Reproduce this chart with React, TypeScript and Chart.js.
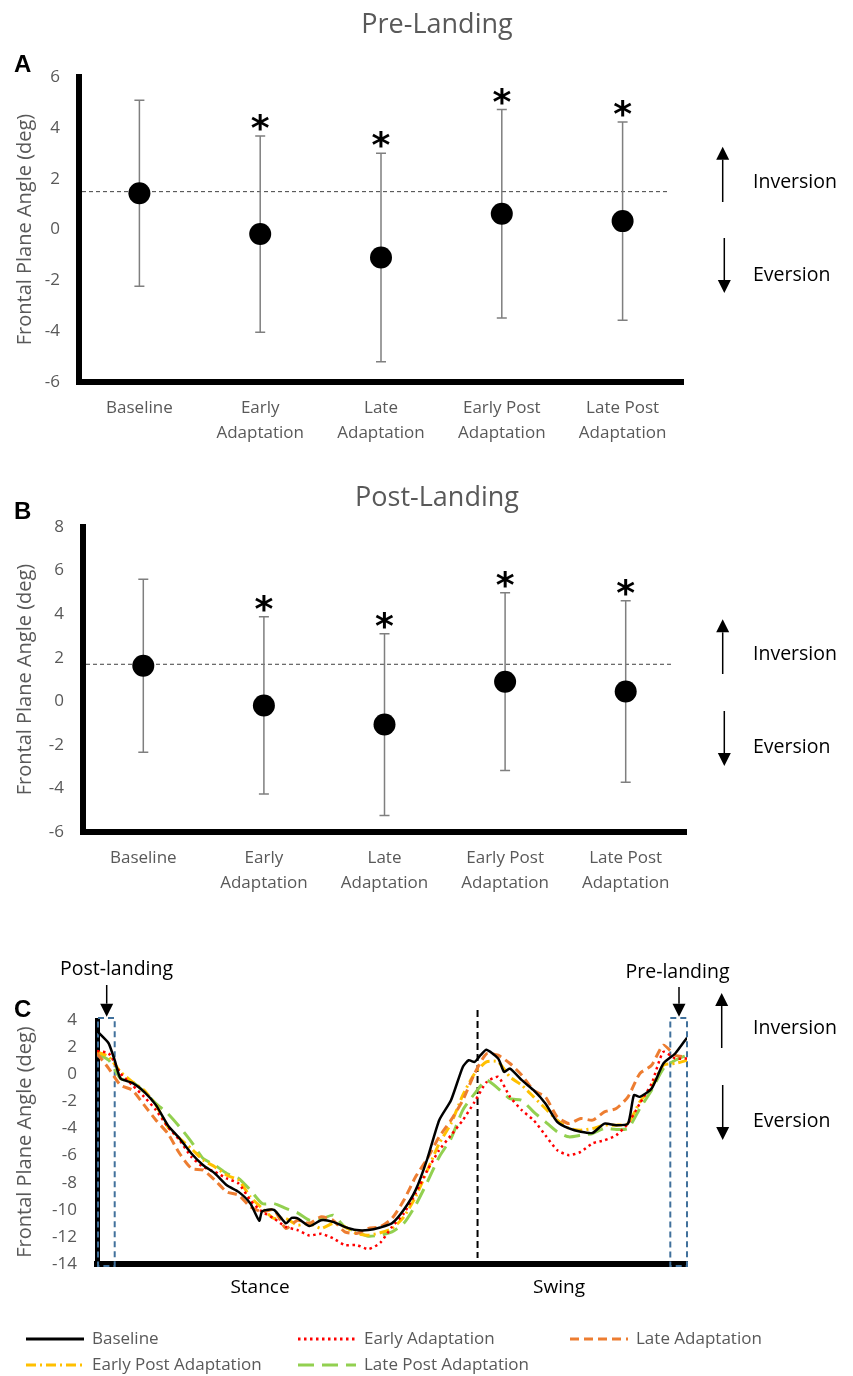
import { useEffect, useRef } from "react";
import { Chart, registerables } from "chart.js";

Chart.register(...registerables);

const FONT = "'Open Sans', 'DejaVu Sans', sans-serif";
const GRAY = "#595959";

// ---------- Panels A & B ----------
const conditions = [
  ["Baseline"],
  ["Early", "Adaptation"],
  ["Late", "Adaptation"],
  ["Early Post", "Adaptation"],
  ["Late Post", "Adaptation"],
];
const preLandingMean = [1.43, -0.18, -1.1, 0.62, 0.33];
const preLandingSD = [3.66, 3.86, 4.1, 4.1, 3.9];
const postLandingMean = [1.63, -0.19, -1.07, 0.9, 0.45];
const postLandingSD = [3.97, 4.07, 4.17, 4.08, 4.17];
const significantVsBaseline = [false, true, true, true, true];

// ---------- Panel C ----------
const gaitPct = [
  0, 2, 4, 6, 8, 10, 12, 14, 16, 18, 20, 22, 24, 26, 28, 30, 32, 34, 36, 38, 40, 42, 44, 46, 48, 50,
  52, 54, 56, 58, 60, 62, 64, 66, 68, 70, 72, 74, 76, 78, 80, 82, 84, 86, 88, 90, 92, 94, 96, 98, 100,
];
const baselinePct = [
  0, 1, 2, 3, 4, 6, 8, 10, 12, 14, 16, 18, 20, 22, 24, 26, 27.5, 28, 30, 32, 33, 34, 36, 38, 40, 42,
  44, 46, 48, 50, 52, 54, 56, 58, 60, 62, 63, 64, 65, 66, 68, 69, 70, 72, 74, 76, 78, 80, 82, 84, 86,
  88, 90, 91, 92, 94, 96, 98, 100,
];
const baselineAngle = [
  3.2, 2.75, 2.26, 1.03, -0.32, -0.64, -1.3, -2.28, -3.76, -4.74, -5.85, -6.71, -7.32, -8.19, -8.68,
  -9.54, -10.8, -10.1, -10.0, -11.0, -10.6, -10.64, -11.2, -10.77, -10.89, -11.26, -11.5, -11.5,
  -11.31, -11.0, -10.0, -8.55, -6.22, -3.39, -1.92, 0.54, 1.03, 0.91, 1.4, 1.8, 1.16, 0.17, 0.42,
  -0.44, -1.18, -2.16, -3.51, -4.0, -4.25, -4.33, -3.64, -3.76, -3.64, -1.55, -1.67, -1.06, 0.79,
  1.53, 2.7,
];
const earlyAdaptationAngle = [
  1.72, 1.53, 0.05, -0.81, -1.67, -2.65, -3.88, -4.87, -6.1, -6.84, -7.2, -7.69, -8.06, -9.3,
  -10.15, -10.64, -11.26, -11.5, -11.9, -11.77, -12.1, -12.6, -12.6, -12.9, -12.44, -11.26, -10.27,
  -8.8, -7.08, -5.6, -4.5, -3.39, -2.04, -0.6, -0.2, -1.67, -2.65, -3.39, -4.5, -5.6, -5.97, -5.73,
  -5.1, -4.87, -4.5, -3.64, -2.16, -0.69, 1.65, 1.16, 1.16,
];
const lateAdaptationAngle = [
  1.53, 0.42, -0.81, -1.18, -2.28, -3.39, -4.37, -5.85, -6.95, -7.08, -7.82, -8.68, -8.92, -9.78,
  -10.15, -10.0, -11.38, -10.77, -11.0, -10.52, -10.77, -11.63, -11.75, -11.38, -11.26, -10.64,
  -9.3, -7.57, -6.22, -4.62, -3.39, -1.92, 0.05, 1.5, 1.4, 0.79, -0.07, -1.18, -1.67, -3.15, -3.64,
  -3.27, -3.39, -2.78, -2.53, -1.67, 0.05, 0.66, 2.14, 1.4, 1.28,
];
const earlyPostAngle = [
  1.65, 1.28, 0.17, -0.57, -1.18, -2.28, -3.88, -4.74, -5.48, -6.34, -6.84, -7.45, -7.82, -9.05,
  -9.9, -10.64, -10.64, -11.13, -11.0, -11.38, -11.0, -11.26, -11.75, -11.87, -11.7, -11.38,
  -10.52, -9.05, -7.08, -5.11, -3.64, -1.55, 0.05, 0.91, 0.91, -0.2, -0.81, -1.67, -2.53, -3.39,
  -4.0, -4.13, -4.0, -3.76, -3.76, -3.64, -2.04, -0.94, 0.66, 0.79, 1.03,
];
const latePostAngle = [
  1.53, 1.03, -0.32, -0.57, -1.3, -2.16, -2.9, -3.88, -4.99, -6.22, -6.71, -7.32, -7.69, -8.55,
  -9.54, -9.54, -9.9, -10.23, -10.77, -10.7, -10.4, -11.26, -11.63, -11.95, -11.87, -11.63, -11.0,
  -9.66, -7.94, -6.1, -4.74, -2.65, -1.43, -0.44, -1.06, -1.8, -1.92, -2.78, -3.51, -4.25, -4.62,
  -4.5, -4.37, -4.0, -4.07, -4.0, -2.53, -1.18, 0.42, 1.03, 1.4,
];
const toeOffPct = 64.5;
const postLandingWindow = [0, 3];
const preLandingWindow = [97, 100];

const seriesNames = [
  "Baseline",
  "Early Adaptation",
  "Late Adaptation",
  "Early Post Adaptation",
  "Late Post Adaptation",
];
const seriesColors = ["#000000", "#FF0000", "#ED7D31", "#FFC000", "#92D050"];
const seriesDash = [[], [2.5, 3.5], [9, 5], [10, 4, 2, 4], [16, 8]];
const seriesWidth = [2.5, 2.5, 3, 3, 3];

const LETTER_FONT = "bold 24px 'Liberation Sans', Arial, sans-serif";
const ASTERISK_FONT = "bold 36px 'DejaVu Sans', sans-serif";

function drawArrow(ctx: CanvasRenderingContext2D, x: number, tailY: number, tipY: number) {
  const dir = Math.sign(tipY - tailY);
  const headLen = 13;
  const half = 6.5;
  ctx.save();
  ctx.strokeStyle = "#000";
  ctx.fillStyle = "#000";
  ctx.lineWidth = 1.5;
  ctx.setLineDash([]);
  ctx.beginPath();
  ctx.moveTo(x, tailY);
  ctx.lineTo(x, tipY - dir * headLen);
  ctx.stroke();
  ctx.beginPath();
  ctx.moveTo(x, tipY);
  ctx.lineTo(x - half, tipY - dir * headLen);
  ctx.lineTo(x + half, tipY - dir * headLen);
  ctx.closePath();
  ctx.fill();
  ctx.restore();
}

function text(
  ctx: CanvasRenderingContext2D,
  s: string,
  x: number,
  y: number,
  font: string,
  color: string,
  align: CanvasTextAlign = "left",
  baseline: CanvasTextBaseline = "alphabetic"
) {
  ctx.save();
  ctx.font = font;
  ctx.fillStyle = color;
  ctx.textAlign = align;
  ctx.textBaseline = baseline;
  ctx.fillText(s, x, y);
  ctx.restore();
}

type PanelCfg = {
  title: string;
  titleY: number;
  letter: string;
  letterY: number;
  means: number[];
  sds: number[];
  yMin: number;
  yMax: number;
  padTop: number;
  padRight: number;
  yWidth: number;
  xHeight: number;
  upArrow: [number, number, number];
  downArrow: [number, number, number];
  invY: number;
  evY: number;
};

function makePanel(canvas: HTMLCanvasElement, cfg: PanelCfg) {
  const plugin = {
    id: "panelExtras",
    beforeDatasetsDraw(chart: any) {
      const { ctx, chartArea, scales } = chart;
      const y = scales.y;
      const meta = chart.getDatasetMeta(0);
      ctx.save();
      const ry = y.getPixelForValue(cfg.means[0]) - 1.5;
      ctx.strokeStyle = "#404040";
      ctx.lineWidth = 1;
      ctx.setLineDash([4, 3]);
      ctx.beginPath();
      ctx.moveTo(chartArea.left + 3, ry);
      ctx.lineTo(chartArea.right - 13, ry);
      ctx.stroke();
      ctx.setLineDash([]);
      ctx.strokeStyle = "#7f7f7f";
      ctx.lineWidth = 1.5;
      cfg.means.forEach((m, i) => {
        const x = meta.data[i].x;
        const top = y.getPixelForValue(m + cfg.sds[i]);
        const bot = y.getPixelForValue(m - cfg.sds[i]);
        ctx.beginPath();
        ctx.moveTo(x, top);
        ctx.lineTo(x, bot);
        ctx.moveTo(x - 5, top);
        ctx.lineTo(x + 5, top);
        ctx.moveTo(x - 5, bot);
        ctx.lineTo(x + 5, bot);
        ctx.stroke();
      });
      ctx.restore();
    },
    afterDatasetsDraw(chart: any) {
      const { ctx, scales } = chart;
      const y = scales.y;
      const meta = chart.getDatasetMeta(0);
      cfg.means.forEach((m, i) => {
        if (!significantVsBaseline[i]) return;
        const x = meta.data[i].x;
        const top = y.getPixelForValue(m + cfg.sds[i]);
        const cy = top - 15;
        text(ctx, "*", x, cy + 19, ASTERISK_FONT, "#000", "center");
      });
    },
    afterDraw(chart: any) {
      const { ctx } = chart;
      text(ctx, cfg.title, 437, cfg.titleY, `27px ${FONT}`, GRAY, "center");
      text(ctx, cfg.letter, 14, cfg.letterY, LETTER_FONT, "#000");
      drawArrow(ctx, cfg.upArrow[0], cfg.upArrow[1], cfg.upArrow[2]);
      drawArrow(ctx, cfg.downArrow[0], cfg.downArrow[1], cfg.downArrow[2]);
      text(ctx, "Inversion", 753, cfg.invY, `19.5px ${FONT}`, "#000");
      text(ctx, "Eversion", 753, cfg.evY, `19.5px ${FONT}`, "#000");
    },
  };

  return new Chart(canvas, {
    type: "line",
    data: {
      labels: conditions as any,
      datasets: [
        {
          data: cfg.means,
          showLine: false,
          pointRadius: 11,
          pointHoverRadius: 11,
          pointBackgroundColor: "#000",
          pointBorderWidth: 0,
          borderColor: "#000",
        },
      ],
    },
    options: {
      responsive: false,
      animation: false,
      events: [],
      layout: { padding: { top: cfg.padTop, right: cfg.padRight, left: 0, bottom: 0 } },
      plugins: { legend: { display: false }, title: { display: false }, tooltip: { enabled: false } },
      scales: {
        x: {
          type: "category",
          offset: true,
          grid: { display: false, drawTicks: false },
          border: { display: true, color: "#000", width: 6 },
          ticks: { color: GRAY, font: { family: FONT, size: 17, lineHeight: 1.47 }, padding: 13.5, maxRotation: 0, autoSkip: false },
          afterFit: (s: any) => {
            s.height = cfg.xHeight;
          },
        },
        y: {
          min: cfg.yMin,
          max: cfg.yMax,
          grid: { display: false, drawTicks: false },
          border: { display: true, color: "#000", width: 6 },
          ticks: { stepSize: 2, color: GRAY, font: { family: FONT, size: 17 }, padding: 19 },
          title: {
            display: true,
            text: "Frontal Plane Angle (deg)",
            color: GRAY,
            font: { family: FONT, size: 20 },
            padding: { top: 13, bottom: 0 },
          },
          afterFit: (s: any) => {
            s.width = cfg.yWidth;
          },
        },
      },
    } as any,
    plugins: [plugin],
  });
}

function makeGaitChart(canvas: HTMLCanvasElement) {
  const series = [baselineAngle, earlyAdaptationAngle, lateAdaptationAngle, earlyPostAngle, latePostAngle];
  const datasets = series.map((vals, i) => {
    const xs = i === 0 ? baselinePct : gaitPct;
    return {
      label: seriesNames[i],
      data: vals.map((v, j) => ({ x: xs[j], y: v })),
      borderColor: seriesColors[i],
      borderWidth: seriesWidth[i],
      borderDash: seriesDash[i],
      pointRadius: 0,
      tension: 0.2,
      fill: false,
    };
  });

  const plugin = {
    id: "gaitExtras",
    beforeDatasetsDraw(chart: any) {
      const { ctx, chartArea, scales } = chart;
      const x = scales.x;
      ctx.save();
      // toe-off line
      const tx = x.getPixelForValue(toeOffPct);
      ctx.strokeStyle = "#000";
      ctx.lineWidth = 2;
      ctx.setLineDash([7, 4]);
      ctx.beginPath();
      ctx.moveTo(tx, chartArea.top - 10);
      ctx.lineTo(tx, chartArea.bottom - 6);
      ctx.stroke();
      // landing windows
      ctx.strokeStyle = "#41719C";
      ctx.lineWidth = 2;
      ctx.setLineDash([6, 4]);
      [postLandingWindow, preLandingWindow].forEach((w) => {
        const x0 = x.getPixelForValue(w[0]) + 1;
        const x1 = x.getPixelForValue(w[1]);
        ctx.strokeRect(x0, chartArea.top - 2, x1 - x0, chartArea.bottom + 2 - (chartArea.top - 2));
      });
      ctx.restore();
    },
    afterDraw(chart: any) {
      const { ctx } = chart;
      text(ctx, "C", 14, 97, LETTER_FONT, "#000");
      text(ctx, "Post-landing", 116.5, 55, `19.5px ${FONT}`, "#000", "center");
      drawArrow(ctx, 106.7, 65, 96.7);
      text(ctx, "Pre-landing", 677.5, 58, `19.5px ${FONT}`, "#000", "center");
      drawArrow(ctx, 679, 67, 96.7);
      drawArrow(ctx, 721.7, 128, 73);
      drawArrow(ctx, 722.7, 165, 220);
      text(ctx, "Inversion", 753, 114, `19.5px ${FONT}`, "#000");
      text(ctx, "Eversion", 753, 207, `19.5px ${FONT}`, "#000");
      text(ctx, "Stance", 260, 373, `19px ${FONT}`, "#000", "center");
      text(ctx, "Swing", 559, 373, `19px ${FONT}`, "#000", "center");
      // legend
      const cols = [26, 298, 570];
      const rows = [419, 445];
      seriesNames.forEach((name, i) => {
        const col = cols[i % 3];
        const row = rows[Math.floor(i / 3)];
        ctx.save();
        ctx.strokeStyle = seriesColors[i];
        ctx.lineWidth = 3;
        ctx.setLineDash(seriesDash[i]);
        ctx.beginPath();
        ctx.moveTo(col, row);
        ctx.lineTo(col + 58, row);
        ctx.stroke();
        ctx.restore();
        text(ctx, name, col + 66, row, `17px ${FONT}`, GRAY, "left", "middle");
      });
    },
  };

  return new Chart(canvas, {
    type: "line",
    data: { datasets },
    options: {
      responsive: false,
      animation: false,
      events: [],
      layout: { padding: { top: 100, right: 166, left: 0, bottom: 0 } },
      plugins: { legend: { display: false }, title: { display: false }, tooltip: { enabled: false } },
      scales: {
        x: {
          type: "linear",
          min: 0,
          max: 100,
          grid: { display: false, drawTicks: false },
          border: { display: true, color: "#000", width: 6 },
          ticks: { display: false },
          afterFit: (s: any) => {
            s.height = 112;
          },
        },
        y: {
          min: -14,
          max: 4,
          grid: { display: false, drawTicks: false },
          border: { display: true, color: "#000", width: 5 },
          ticks: { stepSize: 2, color: GRAY, font: { family: FONT, size: 17 }, padding: 20 },
          title: {
            display: true,
            text: "Frontal Plane Angle (deg)",
            color: GRAY,
            font: { family: FONT, size: 20 },
            padding: { top: 13, bottom: 0 },
          },
          afterFit: (s: any) => {
            s.width = 97;
          },
        },
      },
    } as any,
    plugins: [plugin],
  });
}

export default function App() {
  const aRef = useRef<HTMLCanvasElement>(null);
  const bRef = useRef<HTMLCanvasElement>(null);
  const cRef = useRef<HTMLCanvasElement>(null);

  useEffect(() => {
    const a = makePanel(aRef.current!, {
      title: "Pre-Landing",
      titleY: 33,
      letter: "A",
      letterY: 72,
      means: preLandingMean,
      sds: preLandingSD,
      yMin: -6,
      yMax: 6,
      padTop: 77,
      padRight: 170,
      yWidth: 79,
      xHeight: 78,
      upArrow: [722.7, 202, 146.7],
      downArrow: [724.3, 238, 293],
      invY: 188,
      evY: 281,
    });
    const b = makePanel(bRef.current!, {
      title: "Post-Landing",
      titleY: 46,
      letter: "B",
      letterY: 59,
      means: postLandingMean,
      sds: postLandingSD,
      yMin: -6,
      yMax: 8,
      padTop: 67,
      padRight: 167,
      yWidth: 83,
      xHeight: 88,
      upArrow: [722.7, 214, 159.3],
      downArrow: [724.3, 251, 306],
      invY: 200,
      evY: 292.7,
    });
    const c = makeGaitChart(cRef.current!);
    return () => {
      a.destroy();
      b.destroy();
      c.destroy();
    };
  }, []);

  return (
    <div style={{ position: "absolute", left: 0, top: 0, width: 853, height: 1376, background: "#fff" }}>
      <canvas ref={aRef} width={853} height={460} style={{ position: "absolute", left: 0, top: 0, width: 853, height: 460 }} />
      <canvas ref={bRef} width={853} height={460} style={{ position: "absolute", left: 0, top: 460, width: 853, height: 460 }} />
      <canvas ref={cRef} width={853} height={456} style={{ position: "absolute", left: 0, top: 920, width: 853, height: 456 }} />
    </div>
  );
}
